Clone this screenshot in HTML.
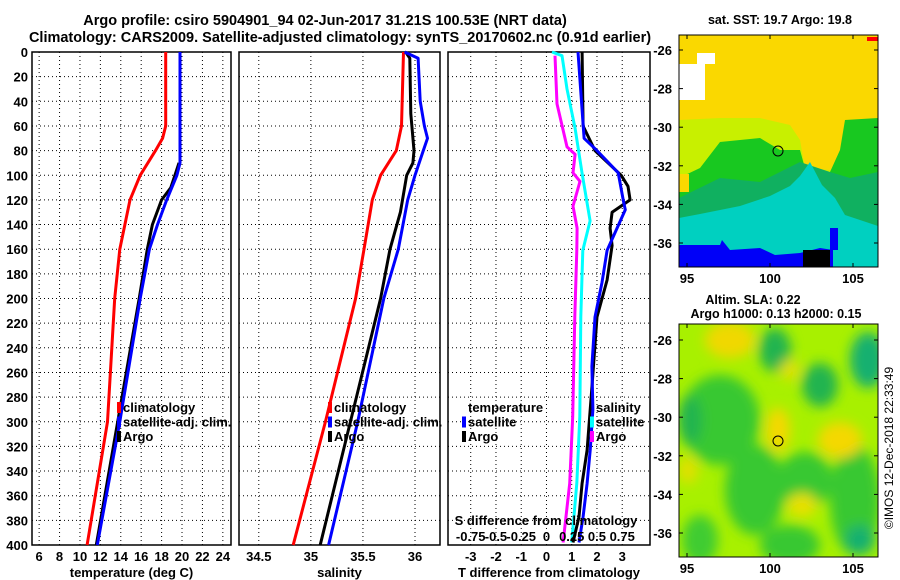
<!DOCTYPE html>
<html><head><meta charset="utf-8"><style>
body{margin:0;background:#fff;}
svg{display:block;font-family:"Liberation Sans",sans-serif;font-weight:bold;}
</style></head><body>
<svg id="fig" width="900" height="580" viewBox="0 0 900 580">
<text x="325" y="25" font-size="14.5" text-anchor="middle">Argo profile: csiro 5904901_94 02-Jun-2017 31.21S 100.53E (NRT data)</text>
<text x="340" y="42" font-size="14.5" text-anchor="middle">Climatology: CARS2009. Satellite-adjusted climatology: synTS_20170602.nc (0.91d earlier)</text>
<g id="panels"></g>
<!-- Map 1: SST -->
<g>
<text x="780" y="24" font-size="12.5" text-anchor="middle">sat. SST: 19.7 Argo: 19.8</text>
<clipPath id="c1"><rect x="679" y="35" width="199" height="232"/></clipPath>
<g clip-path="url(#c1)">
<rect x="679" y="35" width="199" height="232" fill="#fad800"/>
<path d="M679,120 L720,118 L760,118 L790,125 L800,140 L805,168 L830,170 L848,165 L848,120 L878,120 L878,267 L679,267Z" fill="#c8f000"/>
<path d="M679,178 L700,168 L720,142 L760,138 L780,150 L800,150 L806,172 L830,172 L840,150 L845,120 L878,118 L878,267 L679,267Z" fill="#18c820"/>
<path d="M679,198 L720,178 L760,182 L780,172 L800,162 L830,172 L850,178 L878,172 L878,267 L679,267Z" fill="#10b060"/>
<path d="M679,218 L700,214 L740,206 L770,196 L790,186 L800,176 L810,162 L822,185 L835,198 L845,215 L878,226 L878,267 L679,267Z" fill="#00d0c0"/>
<rect x="679" y="174" width="10" height="18" fill="#fad800"/>
<path d="M679,245 L720,245 L722,240 L730,250 L760,248 L775,255 L800,253 L820,248 L833,250 L833,267 L679,267Z" fill="#0000f8"/>
<rect x="830" y="228" width="8" height="22" fill="#0000f8"/>
<rect x="803" y="250" width="27" height="17" fill="#000"/>
<rect x="679" y="64" width="26" height="36" fill="#fff"/>
<rect x="697" y="53" width="18" height="11" fill="#fff"/>
<rect x="867" y="37" width="11" height="4" fill="#f00"/>
</g>
<rect x="679" y="35" width="199" height="232" fill="none" stroke="#000"/>
<circle cx="778" cy="151" r="5" fill="none" stroke="#000"/>
</g>
<!-- Map 2: SLA -->
<g>
<text x="753" y="304" font-size="12.5" text-anchor="middle">Altim. SLA: 0.22</text>
<text x="776" y="318" font-size="12.5" text-anchor="middle">Argo h1000: 0.13 h2000: 0.15</text>
<clipPath id="c2"><rect x="679" y="324" width="199" height="233"/></clipPath>
<filter id="bl"><feGaussianBlur stdDeviation="6"/></filter>
<g clip-path="url(#c2)">
<rect x="679" y="324" width="199" height="233" fill="#a8f000"/>
<g filter="url(#bl)">
<ellipse cx="720" cy="420" rx="40" ry="45" fill="#38c830"/>
<ellipse cx="755" cy="490" rx="30" ry="45" fill="#38c830"/>
<ellipse cx="805" cy="480" rx="28" ry="28" fill="#38c830"/>
<ellipse cx="855" cy="500" rx="25" ry="55" fill="#38c830"/>
<ellipse cx="790" cy="545" rx="30" ry="20" fill="#38c830"/>
<ellipse cx="700" cy="540" rx="18" ry="25" fill="#40cc30"/>
<ellipse cx="775" cy="350" rx="16" ry="22" fill="#20b450"/>
<ellipse cx="820" cy="385" rx="18" ry="22" fill="#20b450"/>
<ellipse cx="868" cy="360" rx="18" ry="28" fill="#18b070"/>
<ellipse cx="860" cy="540" rx="15" ry="15" fill="#18b070"/>
<ellipse cx="690" cy="420" rx="12" ry="25" fill="#20b450"/>
<ellipse cx="730" cy="340" rx="25" ry="18" fill="#f0d800"/>
<ellipse cx="778" cy="430" rx="12" ry="22" fill="#f4d800"/>
<ellipse cx="840" cy="440" rx="22" ry="18" fill="#f4d800"/>
<ellipse cx="802" cy="505" rx="15" ry="12" fill="#e8e000"/>
<ellipse cx="790" cy="370" rx="10" ry="10" fill="#e0e000"/>
<ellipse cx="688" cy="470" rx="10" ry="14" fill="#e0e000"/>
</g>
</g>
<rect x="679" y="324" width="199" height="233" fill="none" stroke="#000"/>
<circle cx="778" cy="441" r="5" fill="none" stroke="#000"/>
</g>
<text transform="translate(893,448) rotate(-90)" font-size="12" font-weight="normal" text-anchor="middle">©IMOS 12-Dec-2018 22:33:49</text>
<g id="maplabels"></g>
</svg>
<script>
// ---------- DATA ----------
const depthTicks=[0,20,40,60,80,100,120,140,160,180,200,220,240,260,280,300,320,340,360,380,400];
const tempTicks=[6,8,10,12,14,16,18,20,22,24];
const salTicks=[34.5,35,35.5,36];
const tdiffTicks=[-3,-2,-1,0,1,2,3];
const sdiffTicks=[-0.75,-0.5,-0.25,0,0.25,0.5,0.75];
const sdiffTickLabels=["-0.75","-0.5","-0.25","0","0.25","0.5","0.75"];

const tClimDepth=[0,60,70,80,100,120,160,200,300,400];
const tClim=[18.4,18.4,18.1,17.4,15.9,14.9,13.9,13.4,12.7,10.7];
const tSatDepth=[0,90,100,120,140,160,200,300,400];
const tSat=[19.8,19.8,19.5,18.5,17.6,16.8,15.9,13.9,11.7];
const tArgoDepth=[90,100,110,120,140,160,200,300,400];
const tArgo=[19.7,19.3,18.9,18.0,17.1,16.6,15.8,13.7,11.6];

const sClimDepth=[0,60,80,100,120,160,200,300,400];
const sClim=[35.89,35.87,35.82,35.67,35.59,35.51,35.43,35.14,34.83];
const sSatDepth=[0,5,40,60,70,80,100,120,160,200,300,400];
const sSat=[35.90,36.03,36.05,36.09,36.12,36.08,36.00,35.93,35.84,35.70,35.45,35.17];
const sArgoDepth=[0,5,50,80,90,100,110,130,160,200,300,400];
const sArgo=[35.91,35.95,35.96,35.99,35.98,35.92,35.90,35.86,35.76,35.67,35.38,35.09];

const dtSatDepth=[0,70,80,98,120,128,161,187,215,255,290,323,350,377,398];
const dtSat=[1.25,1.49,2.0,2.84,3.04,3.12,2.4,2.2,1.92,1.8,1.84,1.73,1.61,1.45,1.29];
const dtArgoDepth=[0,60,80,100,109,120,130,143,157,185,215,269,323,350,377,398];
const dtArgo=[1.41,1.45,1.92,2.96,3.23,3.31,2.6,2.52,2.6,2.4,2.0,1.81,1.61,1.41,1.29,1.05];
const dsSatDepth=[0,3,30,62,98,137,161,215,296,350,398];
const dsSat=[0.055,0.154,0.203,0.283,0.352,0.432,0.36,0.34,0.33,0.30,0.25];
const dsArgoDepth=[3,42,77,83,98,105,125,143,161,215,296,350,398];
const dsArgo=[0.084,0.104,0.203,0.283,0.263,0.332,0.263,0.303,0.30,0.28,0.26,0.23,0.165];

const latTicks=[-26,-28,-30,-32,-34,-36];
const lonTicks=[95,100,105];

// ---------- DRAW ----------
const NS='http://www.w3.org/2000/svg';
const G=document.getElementById('panels');
function mk(tag,attrs,parent,txt){const e=document.createElementNS(NS,tag);for(const k in attrs)e.setAttribute(k,attrs[k]);if(txt!==undefined)e.textContent=txt;(parent||G).appendChild(e);return e;}
const Y0=52,Y1=545;
const yS=d=>Y0+(Y1-Y0)*d/400;
function lin(d0,d1,r0,r1){return v=>r0+(v-d0)*(r1-r0)/(d1-d0);}
const FS='13';

const panels=[
 {x0:32,x1:231,dom:[5.3,24.8],ticks:tempTicks,labels:tempTicks.map(String),title:'temperature (deg C)',name:'temperature-panel'},
 {x0:239,x1:440,dom:[34.31,36.24],ticks:salTicks,labels:salTicks.map(String),title:'salinity',name:'salinity-panel'},
 {x0:448,x1:650,dom:[-3.9,4.1],ticks:tdiffTicks,labels:tdiffTicks.map(String),title:'T difference from climatology',name:'difference-panel'}
];
panels.forEach(p=>{
  p.x=lin(p.dom[0],p.dom[1],p.x0,p.x1);
  const g=mk('g',{});
  
  
  depthTicks.forEach(d=>{if(d>0&&d<400){const l=mk('line',{x1:p.x0,x2:p.x1,y1:yS(d),y2:yS(d),stroke:'#000','stroke-dasharray':'1,3'},g);}});
  p.ticks.forEach((t,i)=>{const X=p.x(t);
    const l=mk('line',{x1:X,x2:X,y1:Y0,y2:Y1,stroke:'#000','stroke-dasharray':'1,3'},g);
    
    const tx=mk('text',{x:X,y:561,'font-size':FS,'text-anchor':'middle'},g,p.labels[i]);
    });
  const r=mk('rect',{x:p.x0,y:Y0,width:p.x1-p.x0,height:Y1-Y0,fill:'none',stroke:'#000','stroke-width':1.5},g);
  
  const t=mk('text',{x:(p.x0+p.x1)/2,y:577,'font-size':FS,'text-anchor':'middle'},g,p.title);
  
});
depthTicks.forEach(d=>{const t=mk('text',{x:28,y:yS(d)+5,'font-size':FS,'text-anchor':'end'},G,String(d));
  });

function line(xf,vals,depths,color,name){
  const pts=vals.map((v,i)=>xf(vals[i]).toFixed(1)+','+yS(depths[i]).toFixed(1)).join(' ');
  const l=mk('polyline',{points:pts,fill:'none',stroke:color,'stroke-width':3,'stroke-linejoin':'round'});
  
  
}
const p0=panels[0],p1=panels[1],p2=panels[2];
line(p0.x,tClim,tClimDepth,'#f00','temp-climatology-line');
line(p0.x,tArgo,tArgoDepth,'#000','temp-argo-line');
line(p0.x,tSat,tSatDepth,'#00f','temp-satellite-line');
line(p1.x,sClim,sClimDepth,'#f00','sal-climatology-line');
line(p1.x,sArgo,sArgoDepth,'#000','sal-argo-line');
line(p1.x,sSat,sSatDepth,'#00f','sal-satellite-line');
const sx=lin(-0.75,0.75,p2.x(-3),p2.x(3));
line(sx,dsArgo,dsArgoDepth,'#f0f','sdiff-argo-line');
line(sx,dsSat,dsSatDepth,'#0ff','sdiff-satellite-line');
line(p2.x,dtArgo,dtArgoDepth,'#000','tdiff-argo-line');
line(p2.x,dtSat,dtSatDepth,'#00f','tdiff-satellite-line');

// S-diff axis labels inside panel 3
let st=mk('text',{x:546,y:525,'font-size':FS,'text-anchor':'middle'},G,'S difference from climatology');

sdiffTicks.forEach((v,i)=>{const t=mk('text',{x:sx(v),y:541,'font-size':FS,'text-anchor':'middle'},G,sdiffTickLabels[i]);
  });

// legends
function legend(x,y,items){items.forEach((it,i)=>{const yy=y+i*14.5;
  const r=mk('rect',{x:x,y:yy-10,width:4,height:11,fill:it[1]});
  
  const t=mk('text',{x:x+6,y:yy,'font-size':FS},G,it[0]);
  });}
legend(117,412,[['climatology','#f00'],['satellite-adj. clim.','#00f'],['Argo','#000']]);
legend(328,412,[['climatology','#f00'],['satellite-adj. clim.','#00f'],['Argo','#000']]);
let lt=mk('text',{x:468,y:412,'font-size':FS},G,'temperature');

legend(462,426.5,[['satellite','#00f'],['Argo','#000']]);
lt=mk('text',{x:596,y:412,'font-size':FS},G,'salinity');

legend(590,426.5,[['satellite','#0ff'],['Argo','#f0f']]);

// map axes
const ML=document.getElementById('maplabels');
const lonX=lin(95,105,687,853);
[[50,243,35,267],[340,533,324,557]].forEach((m,mi)=>{
  const latY=lin(-26,-36,m[0],m[1]);
  latTicks.forEach(v=>{const t=mk('text',{x:672,y:latY(v)+5,'font-size':FS,'text-anchor':'end'},ML,String(v));
    
    mk('line',{x1:679,x2:683,y1:latY(v),y2:latY(v),stroke:'#000'},ML);
    mk('line',{x1:874,x2:878,y1:latY(v),y2:latY(v),stroke:'#000'},ML);});
  lonTicks.forEach(v=>{const t=mk('text',{x:lonX(v),y:m[3]+16,'font-size':FS,'text-anchor':'middle'},ML,String(v));
    
    mk('line',{x1:lonX(v),x2:lonX(v),y1:m[2],y2:m[2]+4,stroke:'#000'},ML);
    mk('line',{x1:lonX(v),x2:lonX(v),y1:m[3]-4,y2:m[3],stroke:'#000'},ML);});
});
</script>
</body></html>
